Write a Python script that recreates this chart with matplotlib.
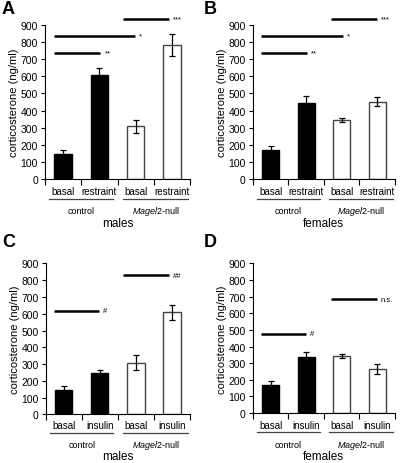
import matplotlib
matplotlib.use("Agg")
import matplotlib.pyplot as plt
from matplotlib.transforms import blended_transform_factory

plt.rcParams['font.family'] = ['Liberation Sans', 'DejaVu Sans']
plt.rcParams['mathtext.fontset'] = 'custom'
plt.rcParams['mathtext.rm'] = 'Liberation Sans'
plt.rcParams['mathtext.it'] = 'Liberation Sans:italic'

# ---------------- data ----------------
conditions_restraint = ["basal", "restraint", "basal", "restraint"]
conditions_insulin = ["basal", "insulin", "basal", "insulin"]
groups = ["control", "Magel2-null"]
sexes = ["males", "females", "males", "females"]
panel_letters = ["A", "B", "C", "D"]

A_vals = [145, 605, 308, 782]
A_errs = [25, 45, 40, 65]
B_vals = [172, 442, 343, 452]
B_errs = [20, 45, 12, 25]
C_vals = [145, 245, 307, 610]
C_errs = [25, 20, 45, 45]
D_vals = [172, 335, 345, 268]
D_errs = [20, 35, 12, 30]

# significance bars: (x start, x end, y level, label)
A_sig = [(0.25, 1.52, 737, "**"), (0.25, 2.48, 836, "*"), (2.15, 3.42, 936, "***")]
B_sig = [(0.22, 1.53, 737, "**"), (0.22, 2.53, 836, "*"), (2.2, 3.49, 936, "***")]
C_sig = [(0.23, 1.48, 618, "#"), (2.15, 3.42, 830, "##")]
D_sig = [(0.22, 1.5, 476, "#"), (2.2, 3.49, 686, "n.s.")]

bar_colors = ["black", "black", "white", "white"]
yticks = list(range(0, 1000, 100))

fig = plt.figure(figsize=(4.0, 4.64), dpi=100)

positions = [
    [0.1125, 0.6115, 0.3625, 0.333],
    [0.632, 0.6115, 0.355, 0.333],
    [0.114, 0.105, 0.361, 0.325],
    [0.632, 0.1075, 0.355, 0.3225],
]
panels = [
    (A_vals, A_errs, A_sig, conditions_restraint),
    (B_vals, B_errs, B_sig, conditions_restraint),
    (C_vals, C_errs, C_sig, conditions_insulin),
    (D_vals, D_errs, D_sig, conditions_insulin),
]
# pixel offsets below axis: condition label, group line, group label, sex label
offsets = [
    (12.0, 20.0, 31.0, 43.5),
    (12.0, 20.0, 31.0, 43.5),
    (11.0, 18.5, 30.5, 42.0),
    (11.5, 19.0, 31.0, 42.5),
]
letter_pos = [(0.005, 0.997), (0.51, 0.997), (0.005, 0.495), (0.51, 0.495)]

for i, (pos, (vals, errs, sig, conds)) in enumerate(zip(positions, panels)):
    ax = fig.add_axes(pos)
    x = [0.5, 1.5, 2.5, 3.5]
    edge = ["black", "black", "#444444", "#444444"]
    ax.bar(x, vals, width=0.48, color=bar_colors, edgecolor=edge, linewidth=1.0, zorder=2)
    ax.errorbar(x, vals, yerr=errs, fmt="none", ecolor="black", elinewidth=0.9,
                capsize=2.5, capthick=0.9, zorder=3)
    ax.set_xlim(0, 4)
    ax.set_ylim(0, 900)
    ax.set_yticks(yticks)
    ax.set_yticklabels([str(t) for t in yticks], fontsize=7.5)
    ax.set_xticks([0, 1, 2, 3, 4])
    ax.set_xticklabels([])
    ax.tick_params(axis="y", direction="out", length=3, width=0.8, pad=2)
    ax.tick_params(axis="x", direction="out", length=4, width=0.8)
    for s in ["top", "right"]:
        ax.spines[s].set_visible(False)
    ax.spines["left"].set_linewidth(0.8)
    ax.spines["bottom"].set_linewidth(0.8)
    ax.set_ylabel("corticosterone (ng/ml)", fontsize=8, labelpad=1)

    trans = blended_transform_factory(ax.transData, ax.transAxes)
    hpx = pos[3] * 464
    o_cond, o_line, o_grp, o_sex = offsets[i]
    for xi, c in zip(x, conds):
        ax.text(xi, -o_cond / hpx, c, transform=trans, ha="center", va="center", fontsize=7)
    # group underlines
    ax.plot([0.11, 1.88], [-o_line / hpx] * 2, transform=trans, color="#444444", lw=0.9, clip_on=False)
    ax.plot([2.15, 3.94], [-o_line / hpx] * 2, transform=trans, color="#444444", lw=0.9, clip_on=False)
    ax.text(1.0, -o_grp / hpx, groups[0], transform=trans, ha="center", va="center", fontsize=6.5)
    ax.text(3.05, -o_grp / hpx, r"$\it{Magel2}$-null", transform=trans, ha="center", va="center",
            fontsize=6.5)
    ax.text(2.0, -o_sex / hpx, sexes[i], transform=trans, ha="center", va="center", fontsize=8.5)

    for (x0, x1, yv, lab) in sig:
        ax.plot([x0, x1], [yv, yv], color="black", lw=1.8, clip_on=False, solid_capstyle="butt")
        ax.text(x1 + 0.12, yv, lab, ha="left", va="center", fontsize=5.5, clip_on=False)

    fig.text(letter_pos[i][0], letter_pos[i][1], panel_letters[i], fontsize=13,
             fontweight="bold", ha="left", va="top")

fig.savefig("out.png", dpi=100)
